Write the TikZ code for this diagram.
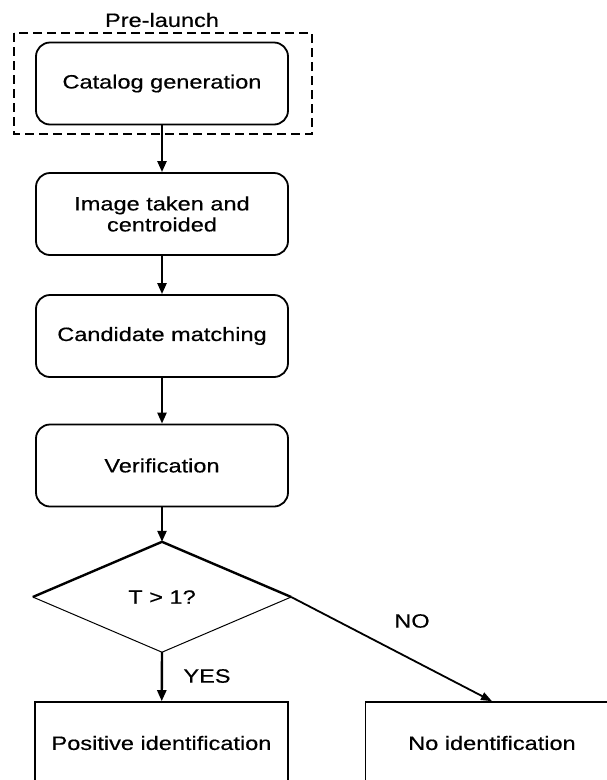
\documentclass[tikz,border=0pt]{standalone}
\usepackage{fontspec}
\setmainfont{Liberation Sans}[FakeStretch=1.22, FakeBold=0.4]
\usetikzlibrary{shapes.geometric,arrows.meta}

\tikzset{
  txt/.style={font=\fontsize{19.3}{21}\selectfont, align=center},
  stepbox/.style={txt, draw, line width=1.8pt, rounded corners=14pt,
    minimum width=252pt, minimum height=82pt, inner sep=0pt},
  endbox/.style={txt, draw, line width=1.6pt,
    minimum width=253pt, minimum height=82pt, inner sep=0pt},
  decision/.style={txt, diamond, minimum width=258pt, minimum height=110pt,
    inner sep=0pt},
  flow/.style={line width=2.4pt, -{Triangle[length=11pt,width=9pt]}},
  thinflow/.style={line width=1.8pt, -{Triangle[length=11pt,width=8pt]}},
  group/.style={line width=2.2pt, dash pattern=on 9pt off 5pt}
}

\begin{document}
\begin{tikzpicture}[x=1pt,y=-1pt]
  \useasboundingbox[fill=white] (0,0) rectangle (607,780);
  \begin{scope}
    \clip (0,0) rectangle (607,780);

    % pre-launch group
    \draw[group] (14,33) rectangle (312,134);
    \node[txt] (pre) at (162,20) {Pre-launch};

    % processing steps
    \node[stepbox] (cat)  at (162,83.5)  {Catalog generation};
    \node[stepbox] (img)  at (162,214)   {Image taken and\\centroided};
    \node[stepbox] (cand) at (162,336)   {Candidate matching};
    \node[stepbox] (ver)  at (162,465.5) {Verification};

    % decision: heavy upper edges, light lower edges
    \node[decision] (dec) at (162,597) {T > 1?};
    \draw[line width=2.4pt, line join=miter] (dec.west) -- (dec.north) -- (dec.east);
    \draw[line width=1pt] (dec.west) -- (dec.south) -- (dec.east);

    % outcomes
    \node[endbox] (pos)  at (161.5,743) {Positive identification};
    \node[endbox] (noid) at (492,743)   {No identification};

    % connectors
    \draw[flow] (cat) -- (img);
    \draw[flow] (img) -- (cand);
    \draw[flow] (cand) -- (ver);
    \draw[flow] (ver) -- (dec.north);
    \draw[flow] (dec.south) -- (pos);
    \draw[thinflow] (dec.east) -- (noid.north);

    \node[txt] (yes) at (207,676) {YES};
    \node[txt] (no)  at (412,621) {NO};
  \end{scope}
\end{tikzpicture}
\end{document}
